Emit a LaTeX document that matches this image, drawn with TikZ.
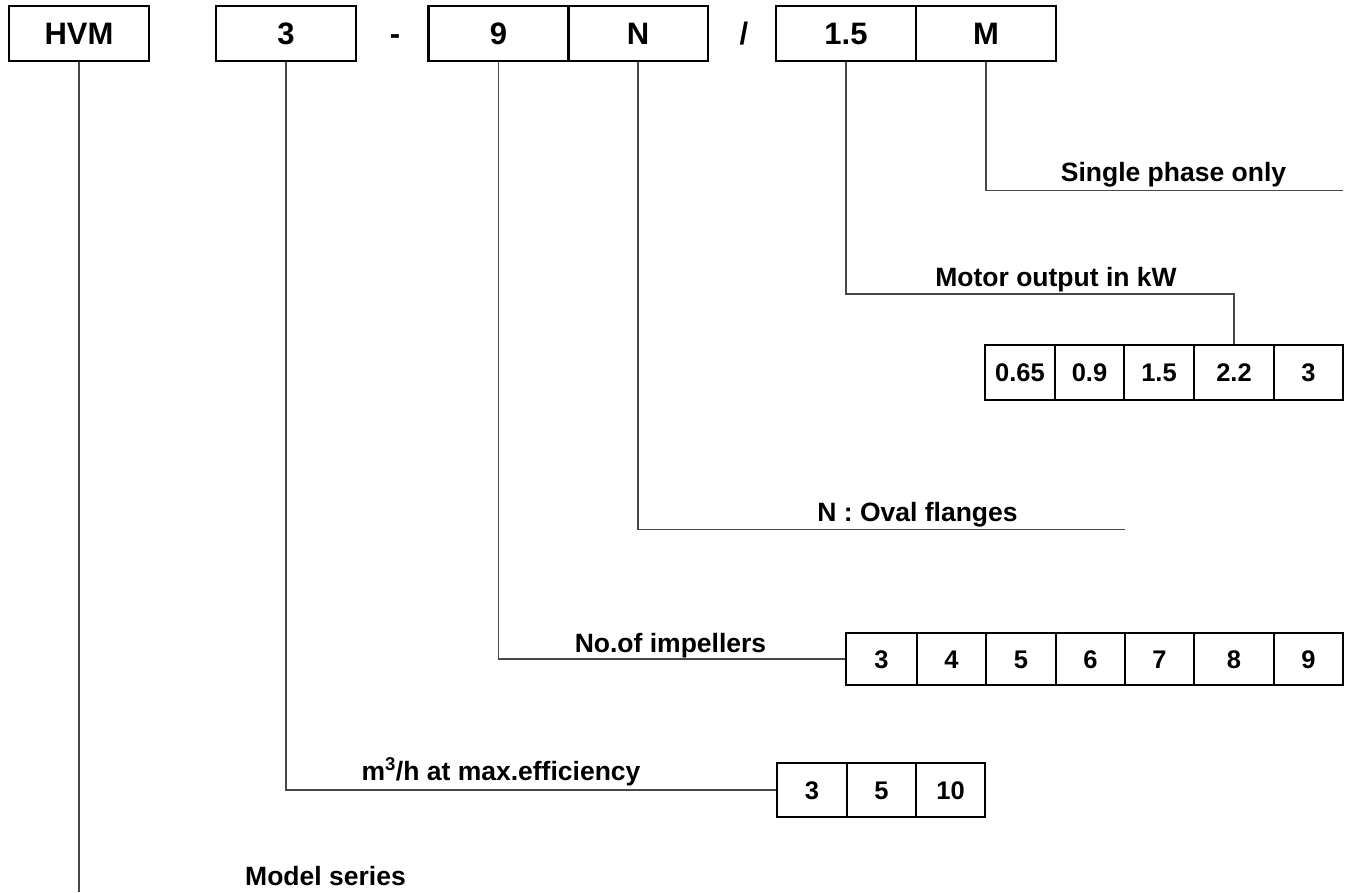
\documentclass[tikz,border=0pt]{standalone}
\usepackage{fontspec}
\setmainfont{Liberation Sans}
\begin{document}
\begin{tikzpicture}[x=1pt,y=-1pt,
  topbox/.style={draw=black,line width=2.6pt,inner sep=0pt,minimum width=140pt,minimum height=55pt,text height=22.5pt,text depth=0pt,font=\fontsize{31}{34}\selectfont\bfseries},
  cell/.style={draw=black,line width=2.6pt,inner sep=0pt,text height=18pt,text depth=0pt,font=\fontsize{25.5}{28}\selectfont\bfseries},
  sym/.style={anchor=base,inner sep=0pt,font=\fontsize{31}{34}\selectfont\bfseries},
  lbl/.style={anchor=base,inner sep=0pt,font=\fontsize{26.5}{30}\selectfont\bfseries},
  conn/.style={draw=black!72,line width=1.3pt}]
\useasboundingbox (0,0) rectangle (1350,892);
% top row
\node[topbox] (hvm) at (79,33.5) {HVM};
\node[topbox] (b3) at (286,33.5) {3};
\node[sym] (dash) at (395,44.5) {-};
\node[topbox] (b9) at (498.5,33.5) {9};
\node[topbox] (bN) at (638,33.5) {N};
\node[sym] (slash) at (744,44.5) {/};
\node[topbox] (b15) at (846,33.5) {1.5};
\node[topbox] (bM) at (986,33.5) {M};
% motor output cells
\node[cell,minimum width=70pt,minimum height=55pt] (m1) at (1020,372.5) {0.65};
\node[cell,minimum width=69pt,minimum height=55pt] (m2) at (1089.5,372.5) {0.9};
\node[cell,minimum width=70pt,minimum height=55pt] (m3) at (1159,372.5) {1.5};
\node[cell,minimum width=80pt,minimum height=55pt] (m4) at (1234,372.5) {2.2};
\node[cell,minimum width=69pt,minimum height=55pt] (m5) at (1308.5,372.5) {3};
% impeller cells
\begin{scope}[cell/.append style={minimum height=52pt}]
\node[cell,minimum width=71pt] (i1) at (881.5,659) {3};
\node[cell,minimum width=69pt] (i2) at (951.5,659) {4};
\node[cell,minimum width=70pt] (i3) at (1021,659) {5};
\node[cell,minimum width=69pt] (i4) at (1090.5,659) {6};
\node[cell,minimum width=69pt] (i5) at (1159.5,659) {7};
\node[cell,minimum width=80pt] (i6) at (1234,659) {8};
\node[cell,minimum width=69pt] (i7) at (1308.5,659) {9};
\end{scope}
% flow cells
\begin{scope}[cell/.append style={minimum height=54pt}]
\node[cell,minimum width=70pt] (f1) at (812,790) {3};
\node[cell,minimum width=69pt] (f2) at (881.5,790) {5};
\node[cell,minimum width=69pt] (f3) at (950.5,790) {10};
\end{scope}
% labels
\node[lbl] (lsp) at (1173.5,181.7) {Single phase only};
\node[lbl] (lmo) at (1056,286.7) {Motor output in kW};
\node[lbl] (lov) at (917.5,521.7) {N : Oval flanges};
\node[lbl] (lim) at (670.5,652) {No.of impellers};
\node[lbl] (lm3) at (501,780) {m\textsuperscript{3}/h at max.efficiency};
\node[lbl] (lms) at (325.5,885) {Model series};
% connector ends
\coordinate (eM) at (1343,190.7);
\coordinate (k15) at (846,294);
\coordinate (eN) at (1125,529.3);
\coordinate (eH) at (79,892);
% connectors
\draw[conn] (bM.south) |- (eM);
\draw[conn] (b15.south) -- (k15) -| (m4.north);
\draw[conn] (bN.south) |- (eN);
\draw[conn] (b9.south) |- (i1.west);
\draw[conn] (b3.south) |- (f1.west);
\draw[conn] (hvm.south) -- (eH);
\end{tikzpicture}
\end{document}
